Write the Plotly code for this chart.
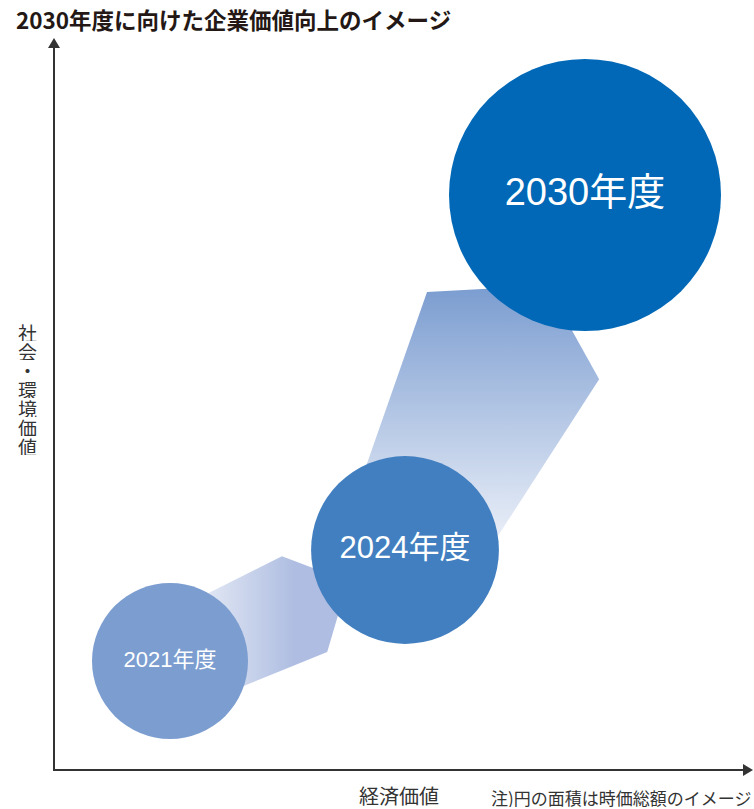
import numpy as np
import plotly.graph_objects as go

# ---------------- data ----------------
years = ["2021年度", "2024年度", "2030年度"]
economic_value = [116, 351, 531]      # horizontal position (経済価値)
social_value = [109, 220, 575]        # vertical position (社会・環境価値)
market_cap = [100, 145, 304]          # relative market cap (circle area)
circle_colors = ["#7b9dd0", "#427fc0", "#0068b6"]
label_sizes = [22, 31, 38]

title_text = "2030年度に向けた企業価値向上のイメージ"
y_label = "社会・環境価値"
x_label = "経済価値"
note_text = "注)円の面積は時価総額のイメージ"

FONT = "Noto Sans CJK JP"
MIX_FONT = "Liberation Sans, Noto Sans CJK JP"
AXIS_COLOR = "#333333"

W, H = 754, 809
X0, Y0 = 54, 770   # pixel location of the origin
xr = [-X0, W - X0]
yr = [-(H - Y0), Y0]

# circle diameters from market cap (area proportional)
base_d = 156
diam = [base_d * np.sqrt(c / market_cap[0]) for c in market_cap]


def arrow_poly(i, j, s0, s1, tip, w0l, w0r, w1l, w1r, tip_off):
    p0 = np.array([economic_value[i], social_value[i]], float)
    p1 = np.array([economic_value[j], social_value[j]], float)
    d = (p1 - p0) / np.linalg.norm(p1 - p0)
    n = np.array([d[1], -d[0]])  # right-hand normal
    pts = [
        p0 + s0 * d - w0l * n,
        p0 + s1 * d - w1l * n,
        p0 + tip * d + tip_off * n,
        p0 + s1 * d + w1r * n,
        p0 + s0 * d + w0r * n,
    ]
    pts.append(pts[0])
    xs = [p[0] for p in pts]
    ys = [p[1] for p in pts]
    return xs, ys


fig = go.Figure()

# arrow 2021 -> 2024
ax1, ay1 = arrow_poly(0, 1, 20, 146, 195, 44, 52, 47, 59, 4)
fig.add_trace(go.Scatter(
    x=ax1, y=ay1, mode="lines", fill="toself", line=dict(width=0),
    fillgradient=dict(type="horizontal", start=155, stop=241,
                      colorscale=[[0, "#dfe5f3"], [1, "#aebde1"]]),
    hoverinfo="skip", showlegend=False))

# arrow 2024 -> 2030
ax2, ay2 = arrow_poly(1, 2, 30, 240, 300, 69, 74, 97, 96, 7)
fig.add_trace(go.Scatter(
    x=ax2, y=ay2, mode="lines", fill="toself", line=dict(width=0),
    fillgradient=dict(type="vertical", start=230, stop=479,
                      colorscale=[[0, "#eaeff8"], [1, "#7d9ed1"]]),
    hoverinfo="skip", showlegend=False))

# circles
fig.add_trace(go.Scatter(
    x=economic_value, y=social_value, mode="markers+text",
    marker=dict(size=diam, color=circle_colors, opacity=1,
                line=dict(width=0)),
    text=years, textposition="middle center",
    textfont=dict(family=MIX_FONT, size=label_sizes, color="white"),
    hoverinfo="skip", showlegend=False))

# axes with arrowheads
shapes = [
    dict(type="line", x0=0, y0=-1, x1=0, y1=724, xref="x", yref="y",
         line=dict(color=AXIS_COLOR, width=2)),
    dict(type="line", x0=-1, y0=0, x1=690, y1=0, xref="x", yref="y",
         line=dict(color=AXIS_COLOR, width=2)),
    dict(type="path", path="M -6,722 L 6,722 L 0,732 Z", xref="x", yref="y",
         fillcolor=AXIS_COLOR, line=dict(width=0)),
    dict(type="path", path="M 689,-6 L 689,6 L 699,0 Z", xref="x", yref="y",
         fillcolor=AXIS_COLOR, line=dict(width=0)),
]

annotations = [
    dict(text=title_text, xref="paper", yref="paper", x=14 / W, y=1 - 19 / H,
         xanchor="left", yanchor="middle", showarrow=False,
         font=dict(family=FONT, size=22.5, color="#231815", weight="bold")),
    dict(text=x_label, xref="x", yref="y", x=399 - X0, y=Y0 - 795,
         xanchor="center", yanchor="middle", showarrow=False, height=22,
         font=dict(family=FONT, size=20, color=AXIS_COLOR)),
    dict(text=note_text, xref="x", yref="y", x=753 - X0, y=Y0 - 797,
         xanchor="right", yanchor="middle", showarrow=False, height=20,
         font=dict(family=FONT, size=17, color=AXIS_COLOR)),
]
for k, ch in enumerate(y_label):
    annotations.append(dict(
        text=ch, xref="x", yref="y", x=27 - X0, y=Y0 - (332 + 19 * k),
        xanchor="center", yanchor="middle", showarrow=False,
        height=18, borderpad=0,
        font=dict(family=FONT, size=19, color=AXIS_COLOR)))

fig.update_layout(
    width=W, height=H, autosize=False,
    margin=dict(l=0, r=0, t=0, b=0, pad=0),
    paper_bgcolor="white", plot_bgcolor="white",
    xaxis=dict(range=xr, visible=False, fixedrange=True),
    yaxis=dict(range=yr, visible=False, fixedrange=True),
    shapes=shapes, annotations=annotations,
)

fig.write_html("out.html")
